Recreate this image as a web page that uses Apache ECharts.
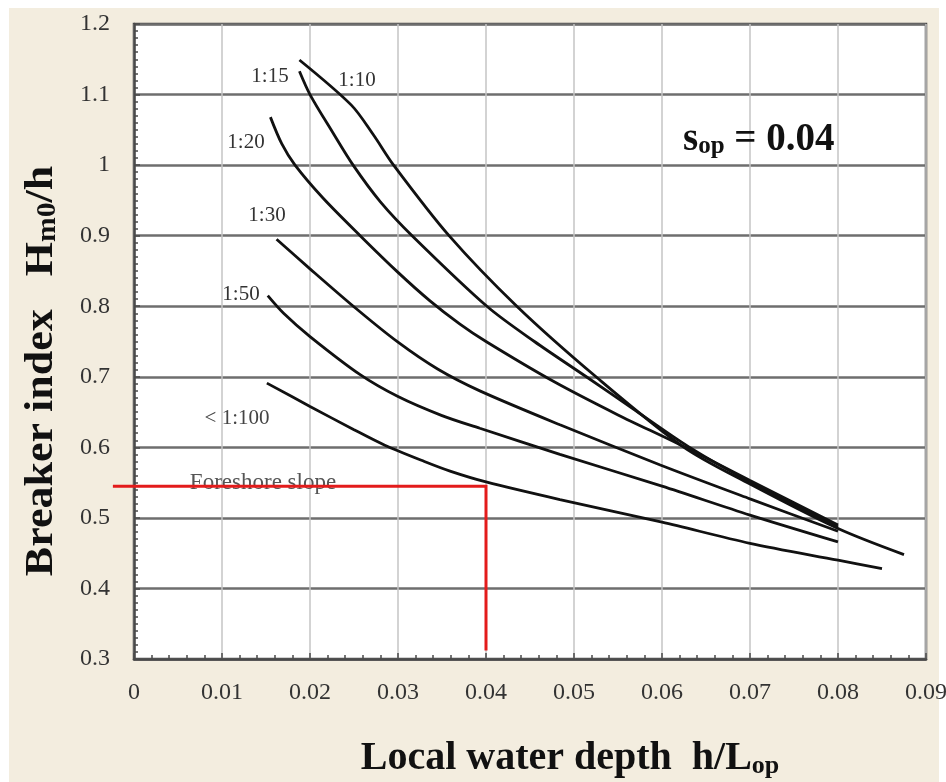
<!DOCTYPE html>
<html>
<head>
<meta charset="utf-8">
<script src="https://cdn.jsdelivr.net/npm/echarts@6/dist/echarts.min.js"></script>
<style>html,body{margin:0;padding:0;background:#fff;}</style>
</head>
<body>
<div id="main" style="width:946px;height:782px;"></div>
<script>
// breaker index curves: x = h/Lop, y = Hm0/h
var slope10X = [0.0188, 0.0247, 0.0272, 0.0295, 0.0358, 0.0435, 0.0525, 0.0625, 0.070, 0.080, 0.0875];
var slope10Y = [1.149, 1.085, 1.043, 1.000, 0.900, 0.800, 0.700, 0.600, 0.548, 0.485, 0.448];

var slope15X = [0.0188, 0.0200, 0.0225, 0.0249, 0.0280, 0.0316, 0.0401, 0.0455, 0.0514, 0.057, 0.063, 0.070, 0.080];
var slope15Y = [1.133, 1.100, 1.048, 1.000, 0.948, 0.900, 0.800, 0.750, 0.700, 0.652, 0.601, 0.551, 0.487];

var slope20X = [0.0155, 0.0168, 0.0183, 0.0215, 0.0257, 0.0300, 0.0336, 0.0370, 0.0400, 0.0476, 0.0550, 0.0620, 0.0700, 0.0800];
var slope20Y = [1.068, 1.030, 1.000, 0.953, 0.900, 0.848, 0.808, 0.775, 0.750, 0.694, 0.646, 0.604, 0.553, 0.490];

var slope30X = [0.0162, 0.0200, 0.0253, 0.0300, 0.0345, 0.0393, 0.0484, 0.0598, 0.0700, 0.0800];
var slope30Y = [0.895, 0.853, 0.796, 0.749, 0.711, 0.680, 0.632, 0.575, 0.527, 0.481];

var slope50X = [0.0152, 0.0170, 0.0200, 0.0257, 0.0300, 0.0350, 0.0393, 0.0484, 0.0600, 0.0700, 0.0800];
var slope50Y = [0.815, 0.790, 0.757, 0.703, 0.672, 0.645, 0.627, 0.590, 0.545, 0.504, 0.466];

var slope100X = [0.0151, 0.0200, 0.0250, 0.0285, 0.0330, 0.0360, 0.0400, 0.0484, 0.0600, 0.0700, 0.0800, 0.0850];
var slope100Y = [0.691, 0.658, 0.625, 0.603, 0.580, 0.566, 0.551, 0.526, 0.494, 0.464, 0.440, 0.428];

// red reading line (foreshore slope example)
var readX = [-0.0024, 0.040, 0.040];
var readY = [0.545, 0.545, 0.312];

var curveNames = ['1:10', '1:15', '1:20', '1:30', '1:50', '< 1:100'];
var xMin = 0, xMax = 0.09, xStep = 0.01;
var yMin = 0.3, yMax = 1.2, yStep = 0.1;

var serif = '"Liberation Serif", "Times New Roman", serif';

function pairs(xs, ys) {
	var out = [];
	for (var i = 0; i < xs.length; i++) {
		out.push([xs[i], ys[i]]);
	}
	return out;
}

function curve(name, xs, ys) {
	return {
		name: name,
		type: 'line',
		data: pairs(xs, ys),
		smooth: 0.3,
		showSymbol: false,
		lineStyle: { color: '#111', width: 2.8 },
		z: 3
	};
}

function label(text, x, y, size, color) {
	return {
		type: 'text', x: x, y: y, z: 1,
		style: {
			text: text, fill: color || '#333',
			font: (size || 21) + 'px ' + serif,
			align: 'center', verticalAlign: 'middle'
		}
	};
}

// axis point, extended past the left axis edge with the axis' own scale
function toPixel(api, x, y) {
	if (x >= xMin) return api.coord([x, y]);
	var p = api.coord([xMin, y]);
	return [p[0] - api.size([xMin - x, 0])[0], p[1]];
}

var chart = echarts.init(document.getElementById('main'), null, { renderer: 'canvas' });

chart.setOption({
	backgroundColor: '#f3eddf',
	animation: false,
	grid: {
		left: 134, top: 24, width: 792, height: 635,
		show: true, backgroundColor: '#fff',
		borderColor: '#4a4a4a', borderWidth: 2.5,
		outerBoundsMode: 'none'
	},
	xAxis: {
		type: 'value', min: xMin, max: xMax, interval: xStep,
		axisLine: { show: true, lineStyle: { color: '#4a4a4a', width: 2.5 } },
		axisTick: { show: true, inside: true, length: 6, lineStyle: { color: '#4a4a4a', width: 1.5 } },
		minorTick: { show: true, splitNumber: 5, length: 4, lineStyle: { color: '#4a4a4a', width: 1.5 } },
		splitLine: { show: true, lineStyle: { color: '#c4c4c4', width: 1.5 } },
		axisLabel: {
			margin: 22, color: '#333', fontSize: 24, fontFamily: serif,
			formatter: function (v) { return v === 0 ? '0' : v.toFixed(2); }
		}
	},
	yAxis: {
		type: 'value', min: yMin, max: yMax, interval: yStep,
		axisLine: { show: true, lineStyle: { color: '#4a4a4a', width: 2.5 } },
		axisTick: { show: true, inside: true, length: 6, lineStyle: { color: '#4a4a4a', width: 1.5 } },
		minorTick: { show: true, splitNumber: 10, length: 4, lineStyle: { color: '#4a4a4a', width: 1.5 } },
		splitLine: { show: true, lineStyle: { color: '#6e6e6e', width: 2.5 } },
		axisLabel: {
			margin: 24, color: '#333', fontSize: 24, fontFamily: serif,
			formatter: function (v) { return String(Number(v.toFixed(1))); }
		}
	},
	graphic: [
		// white page margin round the beige panel
		{ type: 'rect', shape: { x: 0, y: 0, width: 946, height: 8 }, style: { fill: '#fff' }, silent: true },
		{ type: 'rect', shape: { x: 0, y: 0, width: 9, height: 782 }, style: { fill: '#fff' }, silent: true },
		{ type: 'rect', shape: { x: 939, y: 0, width: 7, height: 782 }, style: { fill: '#fff' }, silent: true },
		label(curveNames[1], 270, 76),
		label(curveNames[0], 357, 80),
		label(curveNames[2], 246, 142),
		label(curveNames[3], 267, 215),
		label(curveNames[4], 241, 294),
		label(curveNames[5], 237, 418, 21, '#444'),
		label('Foreshore slope', 263, 483, 23, '#555'),
		{
			type: 'text', x: 683, y: 136, z: 5,
			style: {
				text: '{m|s}{s|op}{m| = 0.04}',
				align: 'left', verticalAlign: 'middle',
				rich: {
					m: { font: 'bold 39px ' + serif, fill: '#111', lineHeight: 46, verticalAlign: 'bottom' },
					s: { font: 'bold 25px ' + serif, fill: '#111', lineHeight: 18, verticalAlign: 'bottom' }
				}
			}
		},
		{
			type: 'text', x: 570, y: 755, z: 5,
			style: {
				text: '{m|Local water depth  h/L}{s|op}',
				align: 'center', verticalAlign: 'middle',
				rich: {
					m: { font: 'bold 40px ' + serif, fill: '#111', lineHeight: 48, verticalAlign: 'bottom' },
					s: { font: 'bold 26px ' + serif, fill: '#111', lineHeight: 18, verticalAlign: 'bottom' }
				}
			}
		},
		{
			type: 'text', x: 38, y: 371, z: 5, rotation: Math.PI / 2, scaleX: 1.1,
			style: {
				text: '{m|Breaker index   H}{s|m0}{m|/h}',
				align: 'center', verticalAlign: 'middle',
				rich: {
					m: { font: 'bold 40px ' + serif, fill: '#111', lineHeight: 48, verticalAlign: 'bottom' },
					s: { font: 'bold 27px ' + serif, fill: '#111', lineHeight: 18, verticalAlign: 'bottom' }
				}
			}
		}
	],
	series: [
		curve(curveNames[0], slope10X, slope10Y),
		curve(curveNames[1], slope15X, slope15Y),
		curve(curveNames[2], slope20X, slope20Y),
		curve(curveNames[3], slope30X, slope30Y),
		curve(curveNames[4], slope50X, slope50Y),
		curve(curveNames[5], slope100X, slope100Y),
		{
			name: 'reading',
			type: 'custom',
			data: [0],
			clip: false,
			z: 4,
			renderItem: function (params, api) {
				var pts = [];
				for (var i = 0; i < readX.length; i++) {
					pts.push(toPixel(api, readX[i], readY[i]));
				}
				return {
					type: 'polyline',
					shape: { points: pts },
					style: { stroke: '#e31b1b', lineWidth: 3, fill: null, lineJoin: 'miter' }
				};
			}
		}
	]
});
</script>
</body>
</html>
